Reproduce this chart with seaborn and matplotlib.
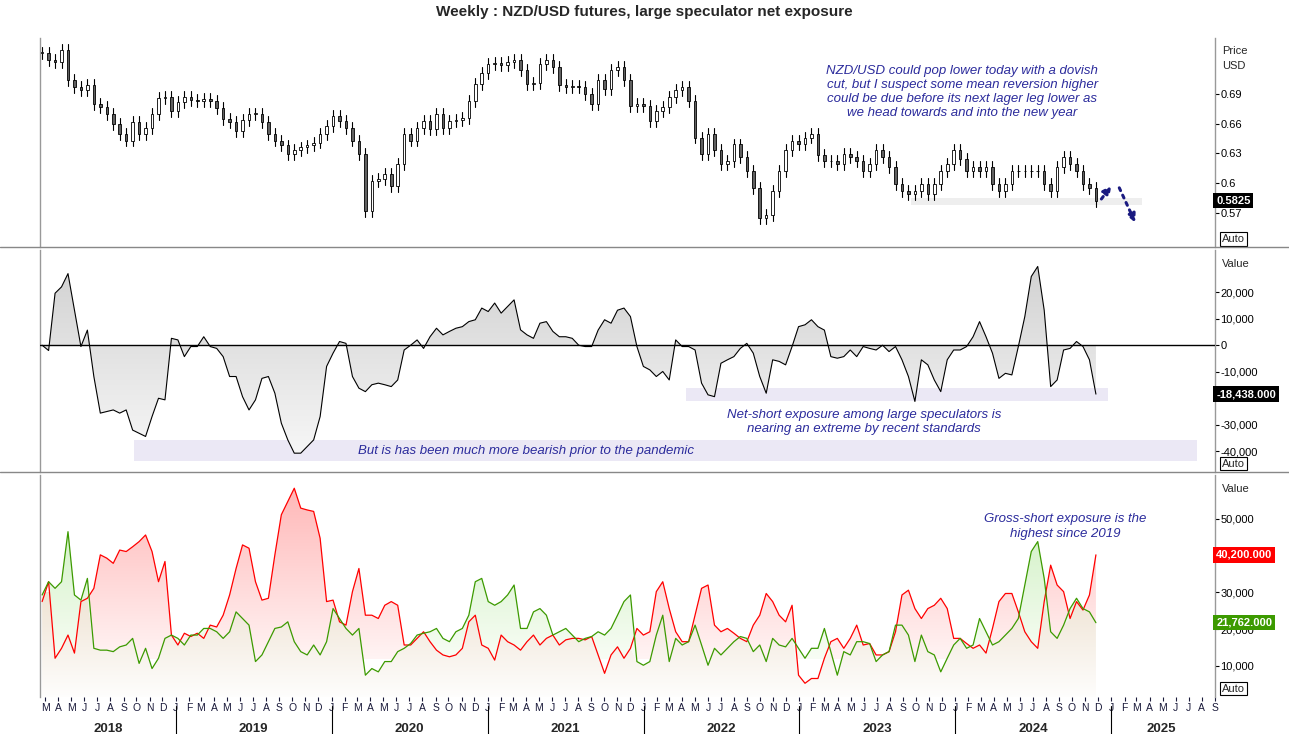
import matplotlib
matplotlib.use('Agg')
import matplotlib.pyplot as plt
import matplotlib.dates as mdates
import matplotlib.transforms as mtransforms
from matplotlib.patches import Rectangle
import seaborn as sns
import numpy as np
import pandas as pd

sns.set_theme(style='white')
plt.rcParams['font.family'] = ['Liberation Sans', 'DejaVu Sans']

# semi-monthly samples, Feb 2018 - Nov 2024
dates = pd.date_range('2018-02-22', '2024-11-26', periods=164)

close = [0.731, 0.724, 0.722, 0.734, 0.704, 0.697, 0.694, 0.699, 0.680, 0.677,
         0.670, 0.660, 0.650, 0.643, 0.662, 0.650, 0.656, 0.670, 0.686, 0.687,
         0.673, 0.682, 0.687, 0.684, 0.683, 0.685, 0.683, 0.676, 0.665, 0.662,
         0.653, 0.664, 0.670, 0.670, 0.662, 0.650, 0.643, 0.638, 0.629, 0.633,
         0.636, 0.638, 0.641, 0.650, 0.658, 0.668, 0.663, 0.656, 0.643, 0.629,
         0.572, 0.602, 0.604, 0.609, 0.597, 0.619, 0.650, 0.643, 0.656, 0.663,
         0.655, 0.670, 0.656, 0.663, 0.664, 0.666, 0.683, 0.700, 0.711, 0.720,
         0.721, 0.719, 0.722, 0.724, 0.714, 0.700, 0.701, 0.720, 0.724, 0.717,
         0.699, 0.697, 0.698, 0.697, 0.690, 0.680, 0.704, 0.695, 0.714, 0.717,
         0.704, 0.678, 0.680, 0.678, 0.663, 0.673, 0.677, 0.687, 0.694, 0.697,
         0.683, 0.646, 0.629, 0.650, 0.633, 0.619, 0.622, 0.639, 0.626, 0.612,
         0.595, 0.565, 0.568, 0.592, 0.612, 0.633, 0.643, 0.639, 0.646, 0.650,
         0.628, 0.622, 0.622, 0.619, 0.629, 0.626, 0.622, 0.612, 0.619, 0.633,
         0.626, 0.616, 0.599, 0.592, 0.589, 0.592, 0.599, 0.589, 0.599, 0.612,
         0.619, 0.633, 0.624, 0.612, 0.616, 0.612, 0.616, 0.599, 0.592, 0.599,
         0.612, 0.612, 0.612, 0.612, 0.612, 0.599, 0.592, 0.616, 0.626, 0.619,
         0.612, 0.599, 0.595, 0.5825]

net = [0, -2.0, 19.6, 22.0, 27.0, 13.2, -0.5, 5.7, -11.8, -25.6,
       -25.0, -24.4, -25.6, -24.4, -32.0, -33.2, -34.4, -26.9, -20.0, -20.6,
       2.6, 2.0, -4.3, -0.5, -0.5, 3.2, -0.5, -1.2, -4.3, -11.8,
       -11.8, -19.4, -24.4, -20.6, -12.5, -11.8, -18.1, -29.4, -35.7, -40.7,
       -40.7, -38.2, -35.7, -26.9, -8.0, -3.0, 1.4, 0.7, -11.8, -16.2,
       -17.5, -14.9, -14.3, -14.9, -15.6, -13.1, -1.8, 0, 2.0, -1.2,
       3.2, 6.4, 3.9, 5.2, 6.4, 7.0, 8.9, 9.6, 14.0, 12.7,
       15.9, 12.1, 14.6, 17.1, 5.8, 3.9, 2.6, 8.3, 8.9, 5.2,
       3.2, 3.2, 2.6, 0, -0.5, -0.5, 5.7, 9.6, 8.3, 13.2,
       14.0, 10.8, -0.5, -8.0, -9.3, -11.8, -9.9, -13.1, 2.0, -0.5,
       -0.5, -1.8, -14.3, -18.7, -19.4, -6.8, -5.5, -4.3, -1.2, 0.7,
       -3.0, -11.8, -18.1, -5.5, -6.1, -7.4, -0.5, 7.0, 7.7, 9.6,
       7.0, 5.7, -4.3, -4.9, -4.3, -1.8, -4.3, -0.5, -1.2, -1.8,
       0, -2.4, -0.5, -5.5, -11.8, -21.2, -5.5, -7.4, -13.1, -17.5,
       -5.5, -1.8, -1.8, -0.5, 3.2, 8.9, 3.2, -3.0, -12.5, -10.6,
       -11.2, -0.5, 10.8, 25.9, 29.7, 13.2, -15.6, -13.1, -1.8, -1.2,
       1.4, -0.5, -5.5, -18.438]

shorts = [27.5, 32.9, 12.1, 14.8, 18.4, 13.5, 27.5, 28.4, 31.1, 40.2,
          39.3, 37.9, 41.5, 41.1, 42.4, 43.8, 45.6, 41.1, 32.9, 38.4,
          18.4, 15.7, 18.9, 18.0, 18.9, 17.5, 21.1, 20.6, 23.8, 29.3,
          36.5, 42.9, 42.0, 32.9, 27.9, 28.4, 40.2, 51.1, 54.7, 58.3,
          52.9, 52.4, 52.0, 44.7, 27.5, 27.9, 22.0, 21.1, 30.2, 36.5,
          23.8, 23.8, 22.9, 26.5, 27.5, 26.5, 15.7, 15.7, 17.5, 19.3,
          16.6, 14.3, 13.0, 12.5, 13.0, 14.8, 22.0, 23.8, 15.7, 14.8,
          11.6, 18.4, 16.6, 15.7, 14.3, 16.6, 18.4, 15.7, 17.5, 18.4,
          15.7, 17.1, 17.5, 17.5, 17.1, 18.0, 13.0, 8.0, 13.0, 15.2,
          12.1, 14.8, 20.2, 18.4, 19.3, 30.2, 32.9, 25.6, 19.3, 16.6,
          16.6, 23.8, 31.1, 32.0, 21.1, 19.3, 20.2, 18.9, 17.5, 16.6,
          21.1, 23.8, 29.7, 27.5, 23.8, 22.0, 26.5, 7.5, 5.3, 6.6,
          6.6, 12.1, 16.6, 17.5, 14.8, 17.5, 21.1, 15.7, 16.1, 13.0,
          13.0, 13.9, 19.3, 29.3, 30.6, 25.6, 22.9, 25.6, 26.5, 28.4,
          25.6, 17.5, 17.5, 16.1, 14.8, 15.7, 13.5, 20.2, 27.5, 29.7,
          29.7, 24.7, 19.3, 16.6, 14.8, 27.5, 37.4, 32.0, 30.2, 22.9,
          27.5, 25.2, 29.3, 40.2]

longs = [29.3, 32.9, 31.1, 32.9, 46.5, 29.3, 27.9, 33.8, 14.8, 14.3,
         14.3, 13.9, 15.2, 15.7, 17.5, 10.7, 14.8, 9.3, 12.1, 17.5,
         18.4, 17.5, 15.7, 18.4, 18.4, 20.2, 20.2, 19.3, 17.5, 19.3,
         24.7, 22.9, 21.1, 11.2, 13.0, 16.6, 20.2, 20.6, 22.0, 16.6,
         13.9, 13.0, 15.7, 13.0, 16.6, 25.6, 22.9, 20.2, 18.4, 20.2,
         7.5, 9.3, 8.4, 11.2, 11.2, 13.9, 14.8, 16.1, 18.4, 18.9,
         19.3, 20.2, 17.5, 16.6, 19.3, 20.2, 23.8, 32.9, 33.8, 27.5,
         26.5, 27.5, 29.3, 32.0, 20.2, 20.2, 24.7, 25.6, 23.8, 18.4,
         19.3, 20.2, 18.4, 16.6, 17.5, 18.0, 19.3, 18.4, 20.2, 23.8,
         27.5, 29.3, 11.2, 10.2, 11.2, 18.4, 23.8, 11.2, 17.5, 15.7,
         16.6, 21.1, 15.7, 10.2, 14.8, 13.0, 14.8, 16.6, 18.0, 17.5,
         13.9, 15.7, 11.2, 17.5, 15.7, 15.2, 17.5, 14.8, 12.1, 14.8,
         14.8, 20.2, 13.9, 7.5, 13.9, 13.0, 16.6, 16.6, 16.1, 11.2,
         13.0, 13.9, 21.1, 21.1, 18.4, 11.2, 18.4, 13.9, 13.0, 8.4,
         12.1, 15.7, 17.5, 14.8, 15.7, 22.9, 19.3, 15.7, 16.6, 18.4,
         20.2, 22.9, 32.0, 41.1, 43.8, 33.8, 19.3, 17.5, 21.1, 25.6,
         28.4, 25.6, 24.7, 21.762]

df = pd.DataFrame({'date': dates, 'close': close,
                   'net': np.array(net) * 1000,
                   'shorts': np.array(shorts) * 1000,
                   'longs': np.array(longs) * 1000})

NAVY = '#2b2b9c'
W, H = 1289, 734
fig = plt.figure(figsize=(W / 100, H / 100), dpi=100)
left, width = 40 / W, 1175 / W
ax1 = fig.add_axes([left, 1 - 247 / H, width, 209 / H])
ax2 = fig.add_axes([left, 1 - 472 / H, width, 222 / H], sharex=ax1)
ax3 = fig.add_axes([left, 1 - 697 / H, width, 222 / H], sharex=ax1)

fig.text(0.5, 1 - 12 / H, 'Weekly : NZD/USD futures, large speculator net exposure',
         ha='center', va='center', fontsize=11, fontweight='bold')
for yy in (247, 472):
    fig.add_artist(plt.Line2D([0, 1], [1 - yy / H] * 2, color='#888888', lw=1))

x = mdates.date2num(df['date'])


def gradient_fill(ax, xs, ytop, ybot, c1, c2, ylo, yhi):
    poly = ax.fill_between(xs, ytop, ybot, color='none', lw=0)
    grad = np.linspace(1, 0, 256).reshape(-1, 1)
    cmap = matplotlib.colors.LinearSegmentedColormap.from_list('g', [c2, c1])
    im = ax.imshow(grad, aspect='auto', cmap=cmap, origin='upper',
                   extent=[xs.min(), xs.max(), ylo, yhi], zorder=1)
    path = poly.get_paths()[0]
    im.set_clip_path(path, transform=ax.transData)


# --- price candles
opens = np.r_[df['close'].iloc[0], df['close'].values[:-1]]
for xi, o, c in zip(x, opens, df['close']):
    hi, lo = max(o, c) + 0.006, min(o, c) - 0.006
    ax1.plot([xi, xi], [lo, hi], color='black', lw=0.8, zorder=2)
    fill = 'white' if c >= o else '#606060'
    ax1.add_patch(Rectangle((xi - 3, min(o, c)), 6, max(abs(c - o), 0.0008),
                            facecolor=fill, edgecolor='black', lw=0.6, zorder=3))
ax1.set_ylim(0.536, 0.746)
ax1.set_yticks([0.57, 0.6, 0.63, 0.66, 0.69])
ax1.set_yticklabels(['0.57', '0.6', '0.63', '0.66', '0.69'])
ax1.add_patch(Rectangle((mdates.date2num(pd.Timestamp('2023-09-20')), 0.578),
                        mdates.date2num(pd.Timestamp('2025-03-15')) - mdates.date2num(pd.Timestamp('2023-09-20')),
                        0.007, facecolor='#eeeeee', edgecolor='none', zorder=1))
ax1.text(0.785, 0.87, 'NZD/USD could pop lower today with a dovish\ncut, but I suspect some mean reversion higher\n'
         'could be due before its next lager leg lower as\nwe head towards and into the new year',
         transform=ax1.transAxes, ha='center', va='top', fontsize=9.5, style='italic',
         color=NAVY, linespacing=1.2)
t1, t2, t3 = [mdates.date2num(pd.Timestamp(d)) for d in ('2024-12-05', '2025-01-05', '2025-03-01')]
ax1.annotate('', xy=(t2, 0.6), xytext=(t1, 0.582),
             arrowprops=dict(arrowstyle='-|>', ls=':', lw=2.2, color='#1a1a80'))
ax1.annotate('', xy=(t3, 0.558), xytext=(t2 + 12, 0.598),
             arrowprops=dict(arrowstyle='-|>', ls=':', lw=2.2, color='#1a1a80'))

# --- net exposure
sns.lineplot(data=df, x='date', y='net', ax=ax2, color='black', lw=0.8, zorder=4)
gradient_fill(ax2, x, df['net'].values, np.zeros(len(x)), '#d2d2d2', '#f7f7f7', -42000, 30000)
ax2.axhline(0, color='black', lw=1, zorder=5)
ax2.set_ylim(-47800, 35900)
ax2.set_yticks([-40000, -30000, -10000, 0, 10000, 20000])
ax2.set_yticklabels(['-40,000', '-30,000', '-10,000', '0', '10,000', '20,000'])
d = lambda s: mdates.date2num(pd.Timestamp(s))
ax2.add_patch(Rectangle((d('2022-04-10'), -21000), d('2024-12-25') - d('2022-04-10'), 5000,
                        facecolor='#ebe8f5', edgecolor='none', zorder=0.5))
ax2.add_patch(Rectangle((d('2018-09-25'), -43500), d('2025-07-20') - d('2018-09-25'), 7700,
                        facecolor='#ebe8f5', edgecolor='none', zorder=0.5))
ax2.text(d('2023-06-01'), -24000, 'Net-short exposure among large speculators is\nnearing an extreme by recent standards',
         ha='center', va='top', fontsize=9.5, style='italic', color=NAVY)
ax2.text(d('2021-04-01'), -39700, 'But is has been much more bearish prior to the pandemic',
         ha='center', va='center', fontsize=9.5, style='italic', color=NAVY)

# --- gross longs / shorts
r, g = df['shorts'].values, df['longs'].values
base = np.minimum(r, g)
gradient_fill(ax3, x, base, np.zeros(len(x)), '#efe3d3', '#ffffff', 0, 30000)
gradient_fill(ax3, x, np.where(r > g, r, base), base, '#ffb8b8', '#fff4f4', 12000, 58000)
gradient_fill(ax3, x, np.where(g > r, g, base), base, '#d4f2c8', '#f8fdf5', 12000, 47000)
sns.lineplot(data=df, x='date', y='shorts', ax=ax3, color='#ff0000', lw=0.9, zorder=4)
sns.lineplot(data=df, x='date', y='longs', ax=ax3, color='#3c9a00', lw=0.9, zorder=4)
ax3.set_ylim(1570, 61900)
ax3.set_yticks([10000, 20000, 30000, 50000])
ax3.set_yticklabels(['10,000', '20,000', '30,000', '50,000'])
ax3.text(d('2024-09-15'), 51500, 'Gross-short exposure is the\nhighest since 2019',
         ha='center', va='top', fontsize=9.5, style='italic', color=NAVY, linespacing=1.3)

ax1.set_xlim(d('2018-02-17'), d('2025-08-25'))

for ax, unit in ((ax1, 'Price\nUSD'), (ax2, 'Value'), (ax3, 'Value')):
    ax.yaxis.tick_right()
    ax.tick_params(axis='y', direction='out', length=3, width=0.8, pad=1,
                   labelsize=8, colors='black', right=True)
    ax.set_xlabel('')
    ax.set_ylabel('')
    for s in ('top', 'bottom'):
        ax.spines[s].set_visible(False)
    for s in ('left', 'right'):
        ax.spines[s].set_color('#999999')
        ax.spines[s].set_linewidth(1)
    ax.text(1.006, 0.96, unit, transform=ax.transAxes, ha='left', va='top', fontsize=8,
            linespacing=1.6)
    ax.text(1.006, 0.015, 'Auto', transform=ax.transAxes, ha='left', va='bottom', fontsize=8,
            bbox=dict(boxstyle='square,pad=0.15', fc='white', ec='black', lw=0.8))
    ax.grid(False)

for ax in (ax1, ax2):
    ax.tick_params(axis='x', bottom=False, labelbottom=False)

# last-value tags
tags = [(ax1, 0.5825, '0.5825', 'black'), (ax2, -18438, '-18,438.000', 'black'),
        (ax3, 40200, '40,200.000', '#ff0000'), (ax3, 21762, '21,762.000', '#3c9a00')]
for ax, v, label, col in tags:
    ax.text(1.001, v, label, transform=mtransforms.blended_transform_factory(ax.transAxes, ax.transData),
            ha='left', va='center', fontsize=8, color='white', fontweight='bold',
            bbox=dict(boxstyle='square,pad=0.25', fc=col, ec='none'), zorder=10, clip_on=False)

# month ticks and year labels
months = pd.date_range('2018-03-01', '2025-09-01', freq='MS')
ax3.set_xticks(mdates.date2num(months))
ax3.set_xticklabels([m.strftime('%b')[0] for m in months])
ax3.tick_params(axis='x', bottom=True, direction='out', length=3, width=0.8,
                labelsize=7.5, pad=1, colors='#1a1a3a')
trans = mtransforms.blended_transform_factory(ax3.transData, ax3.transAxes)
years = list(range(2018, 2026))
for yr in years:
    start = max(d(f'{yr}-01-01'), d('2018-02-17'))
    end = min(d(f'{yr + 1}-01-01'), d('2025-08-25'))
    ax3.text((start + end) / 2, -0.145, str(yr), transform=trans, ha='center', va='center',
             fontsize=9.5, fontweight='bold')
    if yr > 2018:
        ax3.plot([start, start], [-0.04, -0.17], transform=trans, color='black', lw=0.8, clip_on=False)

fig.savefig('out.png', dpi=100, facecolor='white')
